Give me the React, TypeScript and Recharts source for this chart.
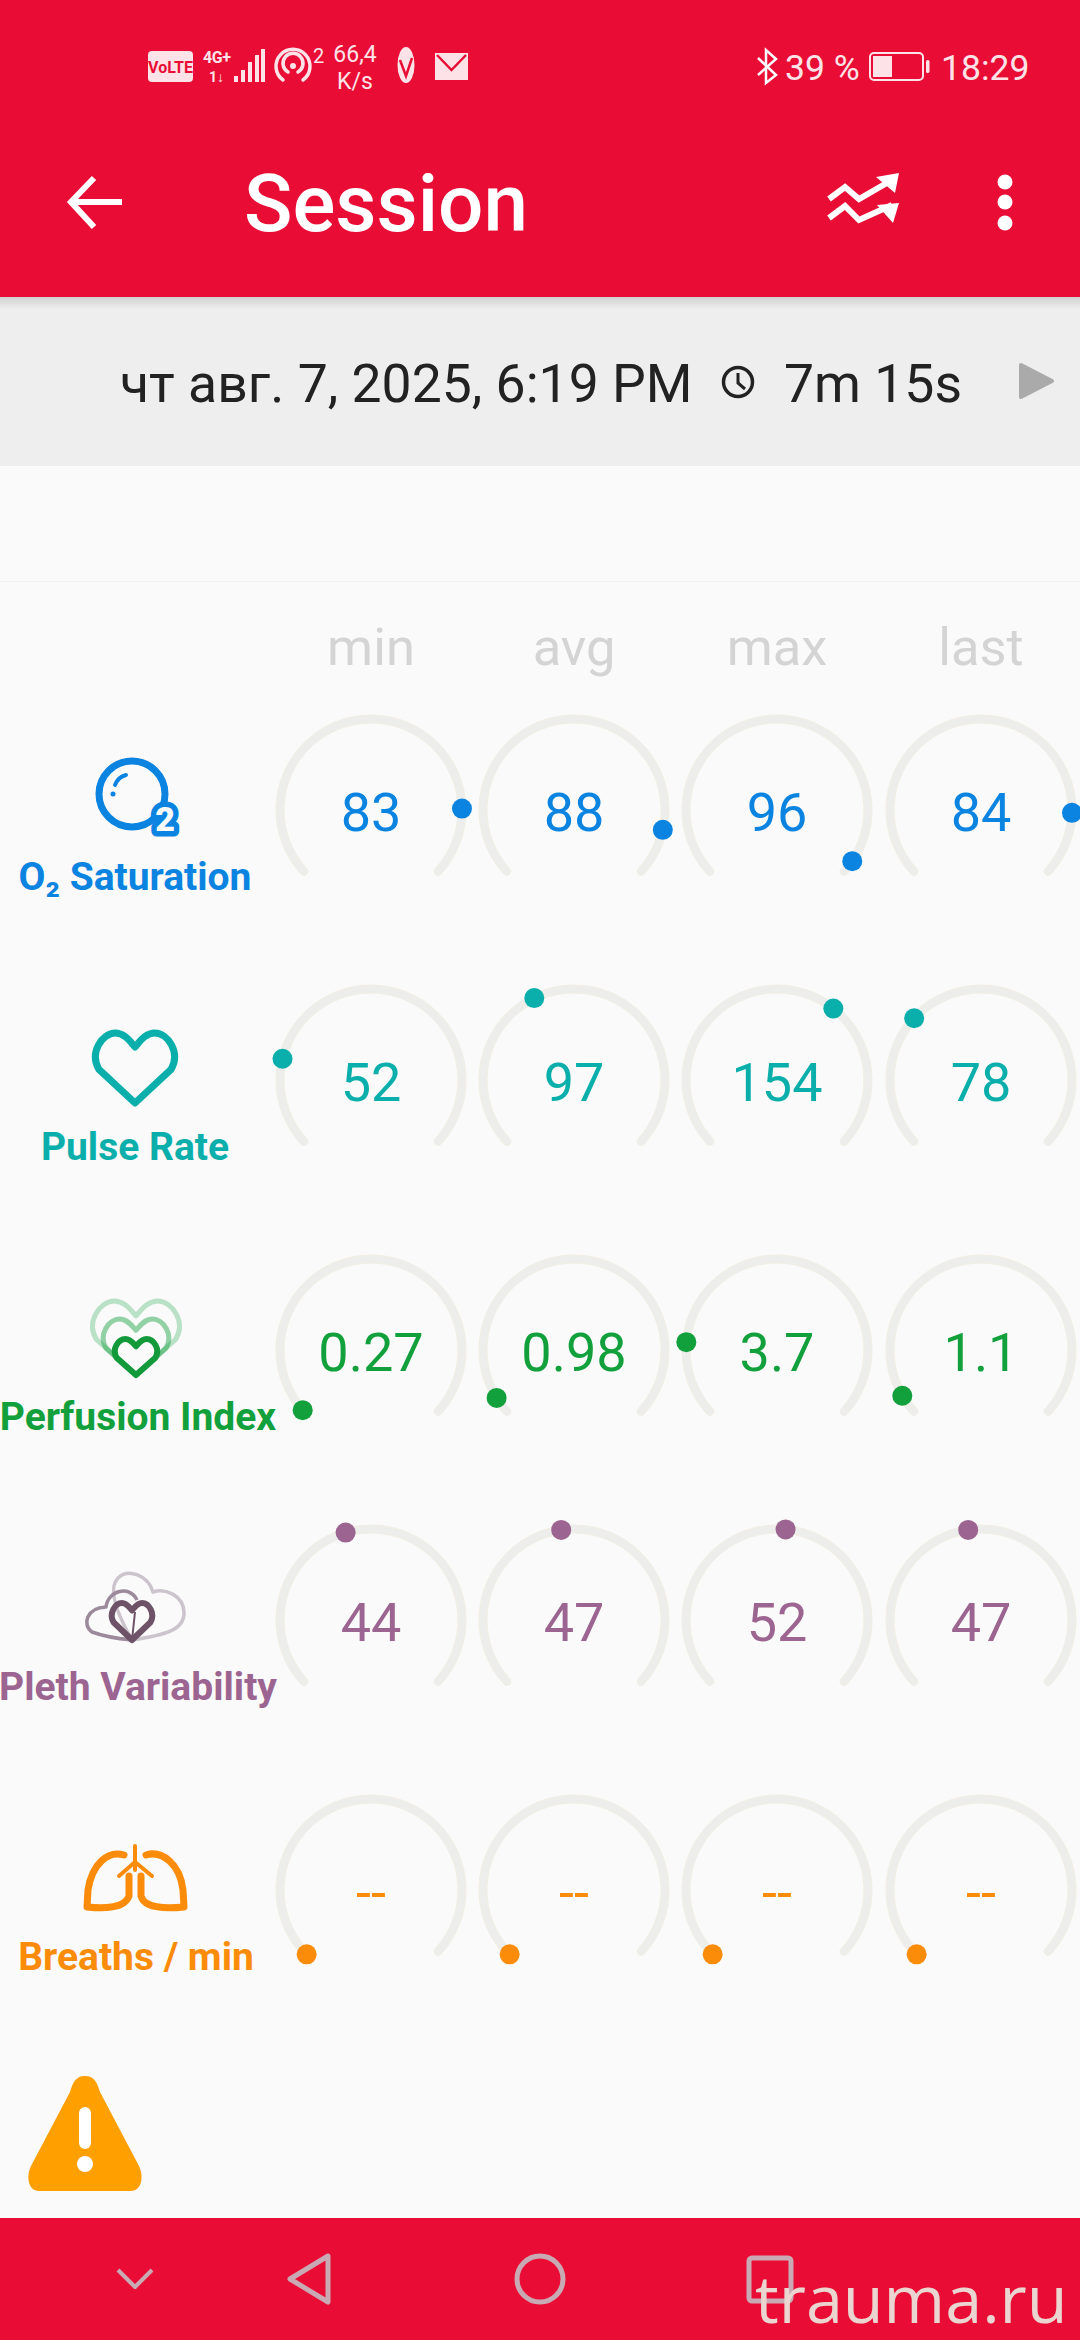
import { PolarAngleAxis, RadialBar, RadialBarChart } from "recharts";

const columns = ["min", "avg", "max", "last"];
const columnCenters = [371, 574, 777, 981];

const satValues = [83, 88, 96, 84];
const pulseValues = [52, 97, 154, 78];
const perfusionValues = [0.27, 0.98, 3.7, 1.1];
const plethValues = [44, 47, 52, 47];
const breathValues = [0, 0, 0, 0];

const rows = [
  { label: "O₂ Saturation", color: "#0a84e0", values: satValues, max: 100, labelX: 135, cy: 810, labelY: 890 },
  { label: "Pulse Rate", color: "#0aaeaa", values: pulseValues, max: 240, labelX: 135, cy: 1080, labelY: 1160 },
  { label: "Perfusion Index", color: "#12a03c", values: perfusionValues, max: 20, labelX: 138, cy: 1350, labelY: 1430 },
  { label: "Pleth Variability", color: "#9c6490", values: plethValues, max: 100, labelX: 138, cy: 1620, labelY: 1700 },
  { label: "Breaths / min", color: "#fa8c0a", values: breathValues, max: 60, labelX: 136, cy: 1890, labelY: 1970, empty: true },
];

const RED = "#e90d36";
const BOX = 240;
const ROBOTO = "Roboto, sans-serif";

function Thumb(props: any) {
  const r = (props.innerRadius + props.outerRadius) / 2;
  const a = (-props.endAngle * Math.PI) / 180;
  return <circle cx={props.cx + r * Math.cos(a)} cy={props.cy + r * Math.sin(a)} r={10} fill={props.color} />;
}

function Gauge({ value, max, color, x, y }: any) {
  return (
    <div style={{ position: "absolute", left: x - BOX / 2, top: y - BOX / 2, width: BOX, height: BOX }}>
      <RadialBarChart
        width={BOX}
        height={BOX}
        cx={BOX / 2}
        cy={BOX / 2}
        margin={{ top: 0, right: 0, bottom: 0, left: 0 }}
        innerRadius={87}
        outerRadius={95}
        startAngle={225}
        endAngle={-45}
        barCategoryGap={0}
        data={[{ value }]}
      >
        <PolarAngleAxis type="number" domain={[0, max]} tick={false} axisLine={false} />
        <RadialBar
          dataKey="value"
          isAnimationActive={false}
          cornerRadius={4}
          cornerIsExternal
          background={{ fill: "#ededeb", stroke: "#f2eee4", strokeWidth: 1 }}
          shape={(p: any) => <Thumb {...p} color={color} />}
        />
      </RadialBarChart>
    </div>
  );
}

function heart(cx: number, top: number, w: number, h: number) {
  const hw = w / 2;
  const dip = top + h * 0.2;
  return `M${cx} ${top + h} L${cx - hw * 0.88} ${top + h * 0.52} C${cx - hw * 1.12} ${top + h * 0.28} ${cx - hw * 0.8} ${top} ${cx - hw * 0.48} ${top} C${cx - hw * 0.26} ${top} ${cx - hw * 0.12} ${dip - h * 0.08} ${cx} ${dip} C${cx + hw * 0.12} ${dip - h * 0.08} ${cx + hw * 0.26} ${top} ${cx + hw * 0.48} ${top} C${cx + hw * 0.8} ${top} ${cx + hw * 1.12} ${top + h * 0.28} ${cx + hw * 0.88} ${top + h * 0.52} Z`;
}

function Chrome() {
  const barTop = [
    [234, 76],
    [241, 70],
    [248, 62],
    [255, 55],
    [261, 49],
  ];
  return (
    <svg width={1080} height={2340} style={{ position: "absolute", left: 0, top: 0 }} fontFamily={ROBOTO}>
      <defs>
        <linearGradient id="shade" x1="0" y1="0" x2="0" y2="1">
          <stop offset="0" stopColor="#000" stopOpacity={0.12} />
          <stop offset="1" stopColor="#000" stopOpacity={0} />
        </linearGradient>
      </defs>
      <rect width={1080} height={2340} fill="#fafafa" />
      <rect width={1080} height={297} fill={RED} />
      <rect y={297} width={1080} height={169} fill="#eeeeee" />
      <rect y={297} width={1080} height={12} fill="url(#shade)" />
      <rect y={581} width={1080} height={1} fill="#f1f1f1" />
      <rect y={2218} width={1080} height={122} fill={RED} />

      {/* status bar */}
      <rect x={148} y={51} width={45} height={31} rx={4} fill="#fde3e8" />
      <text x={170.5} y={73} textAnchor="middle" fontSize={16} fontWeight={700} fill={RED} fontFamily="Liberation Sans Narrow, Roboto">VoLTE</text>
      <text x={203} y={63} fontSize={16} fontWeight={700} fill="#fde3e8" textLength={28}>4G+</text>
      <text x={209} y={82} fontSize={14} fontWeight={700} fill="#fde3e8">1↓</text>
      {barTop.map(([x, y]) => (
        <rect key={x} x={x} y={y} width={4} height={82 - y} fill="#fde3e8" />
      ))}
      <g fill="none" stroke="#fde3e8" strokeWidth={3.5} strokeLinecap="round">
        <path d="M283 80 A17 17 0 1 1 303 80" />
        <path d="M288 72 A10 10 0 1 1 298 72" />
      </g>
      <circle cx={293} cy={66} r={3} fill="#fde3e8" />
      <text x={313} y={63} fontSize={20} fill="#fde3e8">2</text>
      <text x={355} y={62} textAnchor="middle" fontSize={23} fill="#fde3e8">66,4</text>
      <text x={355} y={89} textAnchor="middle" fontSize={23} fill="#fde3e8">K/s</text>
      <ellipse cx={406} cy={65} rx={8.5} ry={18} fill="#fde3e8" />
      <path d="M400 60 L406 76 L412 58" fill="none" stroke={RED} strokeWidth={2.5} />
      <rect x={435} y={53} width={33} height={27} fill="#fde3e8" />
      <path d="M437 55 L451.5 70 L466 55" fill="none" stroke={RED} strokeWidth={2.5} />
      <path d="M758 58 L776 75 L766 83 L766 50 L776 59 L758 75" fill="none" stroke="#fff" strokeWidth={2.5} />
      <text x={785} y={80} fontSize={35.5} fill="#fde3e8">39 %</text>
      <rect x={870} y={53} width={53} height={27} rx={4} fill="none" stroke="#fde3e8" strokeWidth={2} />
      <rect x={873} y={56} width={19} height={21} fill="#fde3e8" />
      <rect x={926} y={60} width={3.5} height={13} rx={1.5} fill="#fde3e8" />
      <text x={941} y={80} fontSize={35.5} fill="#fde3e8">18:29</text>

      {/* toolbar */}
      <path d="M122 202 L72 202 M94 178 L71 202 L94 227" fill="none" stroke="#fff" strokeWidth={6} />
      <text x={244} y={231} fontSize={80} fontWeight={500} fill="#fff">Session</text>
      <g fill="none" stroke="#fff" strokeWidth={6}>
        <path d="M829 199 L845 187 L859 199 L892 180" />
        <path d="M829 218 L845 206 L859 220 L892 205" />
      </g>
      <path d="M899 173 L876 177 L895 193 Z M899 203 L877 205 L893 223 Z" fill="#fff" />
      <circle cx={1005} cy={182} r={7.5} fill="#fff" />
      <circle cx={1005} cy={202} r={7.5} fill="#fff" />
      <circle cx={1005} cy={223} r={7.5} fill="#fff" />

      {/* date strip */}
      <text x={120} y={402} fontSize={53.5} fill="#222">чт авг. 7, 2025, 6:19 PM</text>
      <circle cx={738} cy={382} r={14.5} fill="none" stroke="#222" strokeWidth={3.5} />
      <path d="M738 373 L738 383 L745 389" fill="none" stroke="#222" strokeWidth={3} />
      <text x={784} y={402} fontSize={53.5} fill="#222">7m 15s</text>
      <path d="M1021 365 L1052 381 L1021 397 Z" fill="#aaaaaa" stroke="#aaaaaa" strokeWidth={4} strokeLinejoin="round" />

      {/* column heads */}
      {columns.map((c, i) => (
        <text key={c} x={columnCenters[i]} y={665} textAnchor="middle" fontSize={52.5} fill="#d4d4d4">
          {c}
        </text>
      ))}

      {/* row labels */}
      {rows.map((r) => (
        <text key={r.label} x={r.labelX} y={r.labelY} textAnchor="middle" fontSize={39} fontWeight={700} fill={r.color}>
          {r.label}
        </text>
      ))}

      {/* O2 icon */}
      <circle cx={132} cy={794} r={33} fill="none" stroke="#0a84e0" strokeWidth={7} />
      <path d="M115 785 Q118 777 126 775" fill="none" stroke="#0a84e0" strokeWidth={4} strokeLinecap="round" />
      <circle cx={113} cy={794} r={2.5} fill="#0a84e0" />
      <text x={165} y={831} textAnchor="middle" fontSize={34} fontWeight={900} fill="#fafafa" stroke="#0a84e0" strokeWidth={11} strokeLinejoin="round" style={{ paintOrder: "stroke" }}>2</text>

      {/* pulse icon */}
      <path d={heart(135, 1033, 82, 70)} fill="none" stroke="#0aaeaa" strokeWidth={7} strokeLinejoin="round" />

      {/* perfusion icon */}
      <path d={heart(136, 1301, 90, 74)} fill="none" stroke="#12a03c" strokeOpacity={0.28} strokeWidth={5} strokeLinejoin="round" />
      <path d={heart(136, 1319, 68, 56)} fill="none" stroke="#12a03c" strokeOpacity={0.45} strokeWidth={5} strokeLinejoin="round" />
      <path d={heart(136, 1339, 44, 36)} fill="none" stroke="#12993a" strokeWidth={6} strokeLinejoin="round" />

      {/* pleth icon */}
      <g fill="none" strokeLinejoin="round">
        <path d="M132 1640 C165 1635 185 1630 184 1612 C183 1595 165 1588 153 1592 C148 1575 128 1568 118 1578 C110 1586 112 1605 132 1640" stroke="#ccc4cc" strokeWidth={3.5} />
        <path d="M132 1640 C112 1638 100 1635 92 1632 C82 1625 86 1608 106 1607 C108 1590 130 1585 137 1600" stroke="#9c8a9a" strokeWidth={3.5} />
        <path d={heart(132, 1603, 42, 37)} stroke="#6e5268" strokeWidth={6} />
        <path d="M132 1640 L135 1612" stroke="#6e5268" strokeWidth={2} />
      </g>

      {/* lungs icon */}
      <g fill="none" stroke="#fa8c0a" strokeWidth={7} strokeLinejoin="round" strokeLinecap="round">
        <path d="M124 1855 C108 1850 92 1864 88 1890 L87 1907 C105 1909 125 1908 129 1896 L129 1876" />
        <path d="M146 1855 C162 1850 180 1864 183 1890 L184 1907 C165 1909 144 1908 141 1896 L141 1876" />
        <path d="M135 1846 L135 1870 M135 1862 L119 1876 M135 1862 L152 1876" strokeWidth={4} />
      </g>

      {/* warning */}
      <path d="M85 2076 C76 2076 73 2082 70 2092 L31 2166 C26 2176 28 2191 39 2191 L131 2191 C142 2191 144 2176 139 2166 L100 2092 C97 2082 94 2076 85 2076 Z" fill="#ff9f00" />
      <rect x={79} y={2107} width={12} height={42} rx={6} fill="#fff" />
      <circle cx={85} cy={2164} r={8} fill="#fff" />

      {/* nav bar */}
      <g fill="none" stroke="#c9aab4" strokeLinejoin="round">
        <path d="M118 2270 L135 2287 L152 2270" strokeWidth={4} />
        <path d="M328 2256 L290 2279 L328 2302 Z" strokeWidth={5} />
        <circle cx={540} cy={2279} r={23} strokeWidth={5} />
        <rect x={749} y={2258} width={42} height={43} rx={3} strokeWidth={5} />
      </g>
      <text x={755} y={2323} fontSize={66.5} fontFamily="Open Sans, sans-serif" fill="#ead5d0">trauma.ru</text>
    </svg>
  );
}

export default function App() {
  return (
    <div style={{ position: "absolute", left: 0, top: 0, width: 1080, height: 2340, overflow: "hidden" }}>
      <Chrome />
      {rows.map((r) =>
        r.values.map((v, i) => (
          <div key={r.label + i}>
            <Gauge value={v} max={r.max} color={r.color} x={columnCenters[i]} y={r.cy} />
            <div
              style={{
                position: "absolute",
                left: columnCenters[i] - 80,
                width: 160,
                top: r.cy - 27,
                height: 60,
                lineHeight: "60px",
                textAlign: "center",
                fontFamily: ROBOTO,
                fontSize: 54,
                color: r.color,
              }}
            >
              {r.empty ? "--" : String(v)}
            </div>
          </div>
        ))
      )}
    </div>
  );
}
